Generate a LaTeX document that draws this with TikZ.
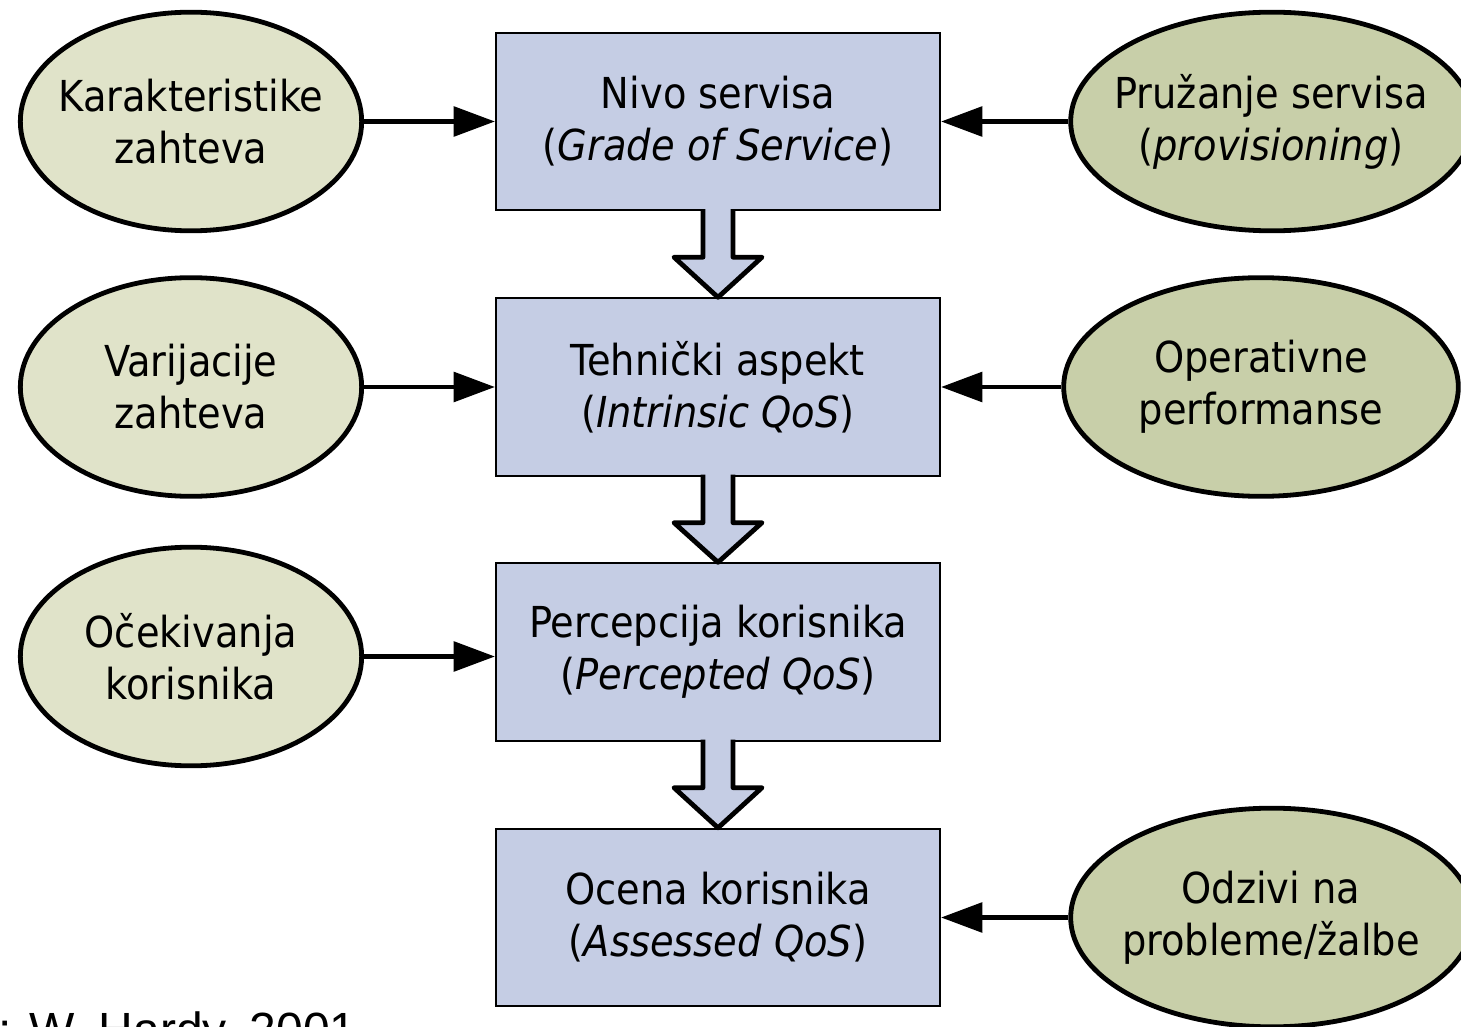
\documentclass[tikz,border=0pt]{standalone}
\usepackage{fontspec}
\setmainfont{DejaVu Sans Condensed}
\newfontfamily\arialf{Liberation Sans}
\usetikzlibrary{shapes.geometric,arrows.meta,calc}
\definecolor{boxblue}{HTML}{C5CDE4}
\definecolor{ellleft}{HTML}{E0E3C9}
\definecolor{ellright}{HTML}{C8CFA9}
\tikzset{
  qbox/.style={draw=black, line width=1.5pt, fill=boxblue, minimum width=333pt, minimum height=133pt, align=center, font=\fontsize{32}{39}\selectfont, inner sep=0pt},
  lell/.style={ellipse, draw=black, line width=3.6pt, fill=ellleft, minimum width=256pt, minimum height=164pt, inner sep=0pt},
  rell/.style={lell, fill=ellright},
  etext/.style={align=center, font=\fontsize{32}{39}\selectfont, inner sep=0pt},
  conn/.style={line width=3.6pt, -{Triangle[length=31pt, width=22pt]}},
  blockarr/.style={line width=3.6pt, line join=round, draw=black}
}
\begin{document}
\begin{tikzpicture}[x=0.75pt,y=-0.75pt]
\useasboundingbox (0,0) rectangle (1461,1027);
\fill[white] (0,0) rectangle (1461,1027);
% boxes
\node[qbox] (b1) at (718,121.5) {Nivo servisa\\(\textit{Grade of Service})};
\node[qbox] (b2) at (718,387) {Tehnički aspekt\\(\textit{Intrinsic QoS})};
\node[qbox] (b3) at (718,652) {Percepcija korisnika\\(\textit{Percepted QoS})};
\node[qbox] (b4) at (718,917.5) {Ocena korisnika\\(\textit{Assessed QoS})};
% left ellipses
\node[lell] (l1) at (191,121.5) {};
\node[etext] (l1t) at (l1) {Karakteristike\\zahteva};
\node[lell] (l2) at (191,387) {};
\node[etext] (l2t) at (l2) {Varijacije\\zahteva};
\node[lell] (l3) at (191,656.5) {};
\node[etext] (l3t) at (l3) {Očekivanja\\korisnika};
% right ellipses
\node[rell, minimum width=302pt] (r1) at (1272,121.5) {};
\node[etext] (r1t) at (1271,121.5) {Pružanje servisa\\(\textit{provisioning})};
\node[rell, minimum width=296pt] (r2) at (1261,387) {};
\node[etext] (r2t) at (r2) {Operativne\\performanse};
\node[rell, minimum width=302pt] (r4) at (1272,917.5) {};
\node[etext] (r4t) at (1271,917.5) {Odzivi na\\probleme/žalbe};
% connectors
\draw[conn] (l1) -- (b1);
\draw[conn] (l2) -- (b2);
\draw[conn] (l3.east) -- (b3.west |- l3.east);
\draw[conn] (r1) -- (b1);
\draw[conn] (r2) -- (b2);
\draw[conn] (r4) -- (b4);
% block arrows
\foreach \a/\b in {b1/b2, b2/b3, b3/b4}{
  \coordinate (s) at ($(\a.south)+(0,-2)$);
  \coordinate (t) at (\b.north);
  \fill[boxblue] ($(s)+(-15,0)$) -- ($(s)+(-15,48)$) -- ($(s)+(-44,48)$) -- (t) -- ($(s)+(44,48)$) -- ($(s)+(15,48)$) -- ($(s)+(15,0)$) -- cycle;
  \draw[blockarr] ($(s)+(-15,0)$) -- ($(s)+(-15,48)$) -- ($(s)+(-44,48)$) -- (t) -- ($(s)+(44,48)$) -- ($(s)+(15,48)$) -- ($(s)+(15,0)$);
}
% source
\node[anchor=base east, font=\arialf\fontsize{36}{40}\selectfont, inner sep=0pt] (src) at (357,1046) {Izvor: W. Hardy, 2001};
\end{tikzpicture}
\end{document}
